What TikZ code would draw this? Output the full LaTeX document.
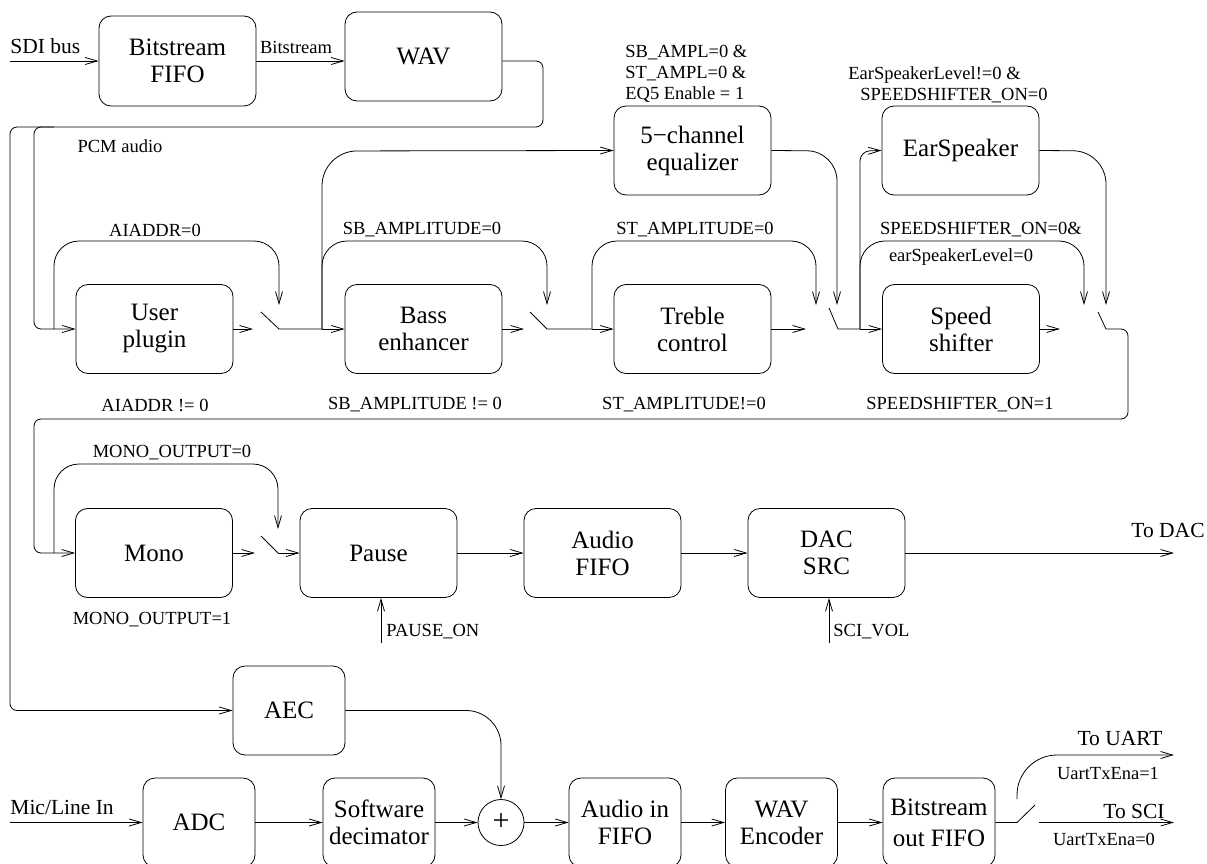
\documentclass[tikz,border=0pt]{standalone}
\usepackage{fontspec}
\setmainfont{Liberation Serif}
\usetikzlibrary{arrows.meta}
\tikzset{
  blk/.style={draw, rounded corners=12pt, minimum width=157pt, minimum height=89pt, align=center, inner sep=0pt, font=\fontsize{25}{27}\selectfont},
  sblk/.style={blk, minimum width=112pt},
  lbl/.style={inner sep=0pt, font=\fontsize{18.5}{21}\selectfont},
  io/.style={inner sep=0pt, font=\fontsize{21.5}{24}\selectfont},
  arr/.style={-{Straight Barb[length=12pt,width=7pt]}},
  bus/.style={rounded corners=7pt},
  arc/.style={rounded corners=25pt, arr},
}
\begin{document}
\begin{tikzpicture}[x=1pt, y=-1pt, line width=0.8pt]
\useasboundingbox (0,0) rectangle (1207,864);
\clip (0,0) rectangle (1207,864);
% ---------- top row
\node[blk, minimum height=90pt] (bfifo) at (177.5,61) {Bitstream\\FIFO};
\node[blk] (wav) at (423.5,56.5) {WAV};
\coordinate (sdiin) at (10,61);
\node[io, anchor=west] (sdil) at (10,46) {SDI bus};
\draw[arr] (sdiin) -- (bfifo.west);
\draw[arr] (bfifo.east) -- (bfifo.east -| wav.west);
\node[lbl] (bsl) at (296,47) {Bitstream};
\node[lbl] (pcml) at (120,146) {PCM audio};
% ---------- equalizer / earspeaker
\node[blk] (eq) at (692.5,150.5) {5−channel\\equalizer};
\node[blk] (ear) at (960.5,150.5) {EarSpeaker};
\node[lbl, anchor=west] (eql1) at (625,53) {SB\_AMPL=0 \&};
\node[lbl, anchor=west] (eql2) at (625,74) {ST\_AMPL=0 \&};
\node[lbl, anchor=west] (eql3) at (625,95) {EQ5 Enable = 1};
\node[lbl, anchor=west] (earl1) at (848,75) {EarSpeakerLevel!=0 \&};
\node[lbl, anchor=west] (earl2) at (860,96) {SPEEDSHIFTER\_ON=0};
% ---------- row 2
\node[blk] (user) at (154.5,329) {User\\plugin};
\node[blk] (bass) at (423.5,329) {Bass\\enhancer};
\node[blk] (treble) at (692.5,329) {Treble\\control};
\node[blk] (speed) at (961,329) {Speed\\shifter};
\node[lbl] (l1a) at (155,230) {AIADDR=0};
\node[lbl] (l2a) at (422,230) {SB\_AMPLITUDE=0};
\node[lbl] (l3a) at (695,230) {ST\_AMPLITUDE=0};
\node[lbl] (l4a) at (981,230) {SPEEDSHIFTER\_ON=0\&};
\node[lbl] (l4b) at (961,257) {earSpeakerLevel=0};
\node[lbl] (l1b) at (155,405) {AIADDR != 0};
\node[lbl] (l2b) at (415,405) {SB\_AMPLITUDE != 0};
\node[lbl] (l3b) at (684,405) {ST\_AMPLITUDE!=0};
\node[lbl] (l4b2) at (960,405) {SPEEDSHIFTER\_ON=1};
% ---------- row 3
\node[blk] (mono) at (154,553) {Mono};
\node[blk] (pause) at (378.5,553) {Pause};
\node[blk] (afifo) at (602.5,553) {Audio\\FIFO};
\node[blk] (dac) at (826.5,553) {DAC\\SRC};
% ---------- AEC and bottom row
\node[sblk] (aec) at (289,710.5) {AEC};
\node[sblk] (adc) at (199,822.5) {ADC};
\node[sblk] (dec) at (379,822.5) {Software\\decimator};
\node[draw, circle, minimum size=46pt, inner sep=0pt, font=\fontsize{30}{30}\selectfont] (sum) at (501,822.5) {+};
\node[sblk] (ain) at (625,822.5) {Audio in\\FIFO};
\node[sblk] (wenc) at (781.5,822.5) {WAV\\Encoder};
\node[sblk] (bout) at (939,822.5) {Bitstream\\[4pt]out FIFO};
% switches row 2
\coordinate (s1f) at (261,312); \coordinate (s1p) at (279,329);
\coordinate (s2f) at (530,312); \coordinate (s2p) at (547,329);
\coordinate (s3f) at (829,308); \coordinate (s3p) at (838,329);
\coordinate (s4f) at (1098,312); \coordinate (s4p) at (1106,329);
\coordinate (j0) at (54,329);
\coordinate (j1) at (322,329);
\coordinate (j2) at (592,329);
\coordinate (j3) at (860,329);
% PCM bus
\coordinate (wavout) at (wav.east |- bfifo.east);
\draw[bus, arr] (wavout) -- (543,61) -- (543,127) -- (34,127) -- (34,329) -- (user.west);
\draw[bus, arr] (54,127) -- (10,127) -- (10,710.5) -- (aec.west);
% row 2 flow
\draw[arr] (user.east) -- (253,329);
\draw (s1f) -- (s1p) -- (j1);
\draw[arr] (j1) -- (bass.west);
\draw[arr] (bass.east) -- (524,329);
\draw (s2f) -- (s2p) -- (j2);
\draw[arr] (j2) -- (treble.west);
\draw[arr] (treble.east) -- (806,329);
\draw (s3f) -- (s3p) -- (j3);
\draw[arr] (j3) -- (speed.west);
\draw[arr] (speed.east) -- (1060,329);
\draw (s4f) -- (s4p);
% bypass arcs
\draw[arc] (j0) -- (54,241) -- (279,241) -- (279,305);
\draw[arc] (j1) -- (322,241) -- (547,241) -- (547,305);
\draw[arc] (j2) -- (592,241) -- (816,241) -- (816,305);
\draw[arc] (j3) -- (860,241) -- (1084,241) -- (1084,305);
% equalizer and earspeaker branches
\draw[arr, rounded corners=35pt] (j1) -- (322,151) -- (eq.west);
\draw[arr, rounded corners=30pt] (eq.east) -- (837,151) -- (837,305);
\draw[arr, rounded corners=10pt] (j3) -- (860,151) -- (ear.west);
\draw[arr, rounded corners=33pt] (ear.east) -- (1106,151) -- (1106,305);
% return line
\draw[bus, arr] (s4p) -- (1128,329) -- (1128,419) -- (34,419) -- (34,553) -- (mono.west);
% row 3 flow
\node[lbl] (m0) at (172,453) {MONO\_OUTPUT=0};
\node[lbl] (m1) at (152,620) {MONO\_OUTPUT=1};
\coordinate (s5f) at (261,536); \coordinate (s5p) at (278,553);
\coordinate (j5) at (54,553);
\draw[arr] (mono.east) -- (255,553);
\draw (s5f) -- (s5p);
\draw[arr] (s5p) -- (pause.west);
\draw[arc] (j5) -- (54,464) -- (278,464) -- (278,529);
\draw[arr] (pause.east) -- (afifo.west);
\draw[arr] (afifo.east) -- (dac.west);
\coordinate (todac) at (1174,553);
\draw[arr] (dac.east) -- (todac);
\node[io, anchor=east] (todacl) at (1205,530) {To DAC};
\coordinate (pin) at (381,643);
\draw[arr] (pin) -- (pin |- pause.south);
\node[lbl, anchor=west] (pinl) at (386,632) {PAUSE\_ON};
\coordinate (vin) at (829,643);
\draw[arr] (vin) -- (vin |- dac.south);
\node[lbl, anchor=west] (vinl) at (833,632) {SCI\_VOL};
% bottom flow
\draw[arr, rounded corners=35pt] (aec.east) -- (aec.east -| sum.north) -- (sum.north);
\coordinate (micin) at (10,822.5);
\node[io, anchor=west] (micl) at (10,807) {Mic/Line In};
\draw[arr] (micin) -- (adc.west);
\draw[arr] (adc.east) -- (dec.west);
\draw[arr] (dec.east) -- (sum.west);
\draw[arr] (sum.east) -- (ain.west);
\draw[arr] (ain.east) -- (wenc.west);
\draw[arr] (wenc.east) -- (bout.west);
\coordinate (s6p) at (1017,822.5); \coordinate (s6f) at (1035,805);
\draw (bout.east) -- (s6p) -- (s6f);
\coordinate (uartc) at (1017,799);
\coordinate (touart) at (1174,755);
\draw[arr, rounded corners=40pt] (uartc) -- (1017,755) -- (touart);
\coordinate (scic) at (1039,822.5);
\coordinate (tosci) at (1174,822.5);
\draw[arr] (scic) -- (tosci);
\node[io] (touartl) at (1120,739) {To UART};
\node[lbl] (u1) at (1108,773) {UartTxEna=1};
\node[io] (toscil) at (1134,811) {To SCI};
\node[lbl] (u0) at (1104,839) {UartTxEna=0};
\end{tikzpicture}
\end{document}
